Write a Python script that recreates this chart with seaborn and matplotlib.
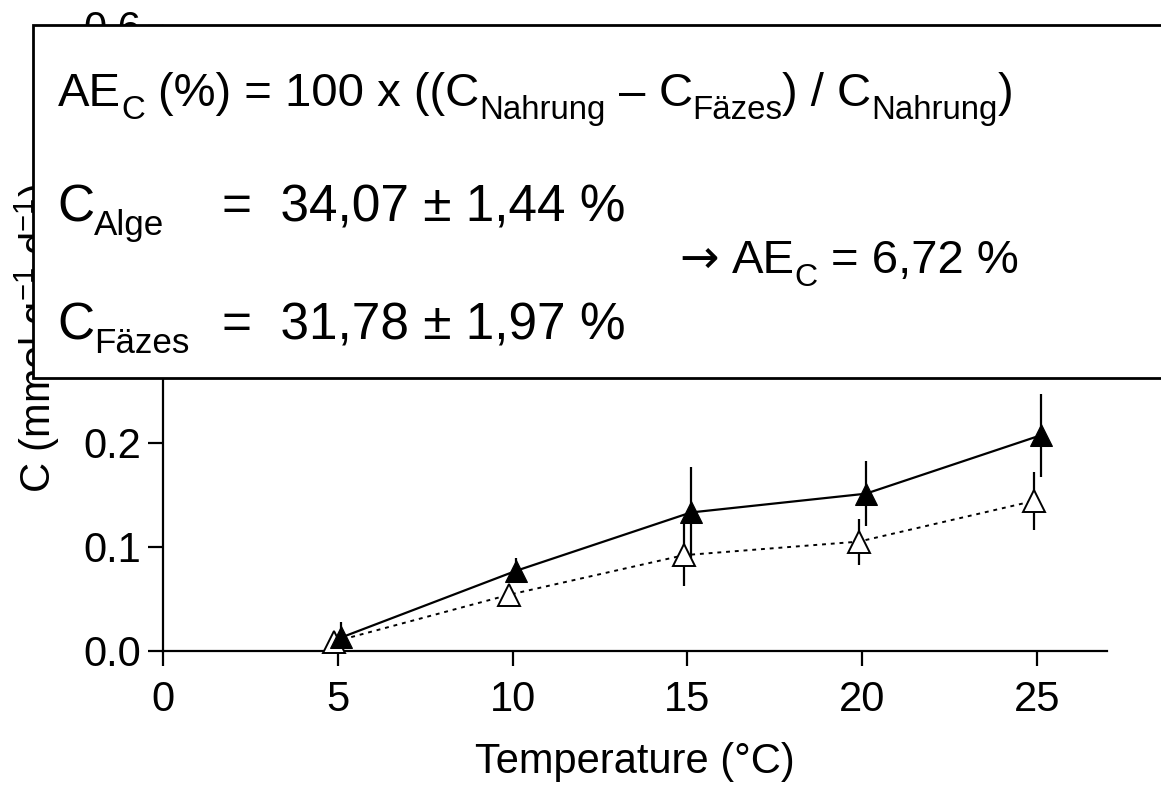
"""Carbon uptake vs temperature with assimilation efficiency box"""

import numpy as np
import matplotlib
matplotlib.use('Agg')
import matplotlib.pyplot as plt
import matplotlib.patches as mpatches
from matplotlib.transforms import IdentityTransform
import seaborn as sns

# data
temps = [5, 10, 15, 20, 25]
offset = 0.1  # small horizontal dodge between the two series
c_filled = [0.013, 0.077, 0.133, 0.151, 0.207]
err_filled = [0.015, 0.012, 0.044, 0.031, 0.040]
c_open = [0.009, 0.054, 0.092, 0.105, 0.144]
err_open = [0.004, 0.005, 0.030, 0.022, 0.028]

x_ticks = [0, 5, 10, 15, 20, 25]
y_ticks = [0.0, 0.1, 0.2, 0.3, 0.4, 0.5, 0.6]

W, H = 1161, 789
SPACE = 0.278  # space width of Arial/Liberation in em


def setup_style():
    sns.set_theme(style='ticks')
    plt.rcParams.update({
        'font.family': ['Liberation Sans', 'DejaVu Sans'],
        'mathtext.fontset': 'custom',
        'mathtext.rm': 'Liberation Sans',
        'mathtext.it': 'Liberation Sans:italic',
        'mathtext.bf': 'Liberation Sans:bold',
        'axes.edgecolor': 'black',
        'axes.labelcolor': 'black',
        'axes.linewidth': 1.6,
        'xtick.major.width': 1.6,
        'ytick.major.width': 1.6,
        'xtick.major.size': 11,
        'ytick.major.size': 11,
        'xtick.color': 'black',
        'ytick.color': 'black',
        'text.color': 'black',
    })


def rich_text(fig, x, y, parts, size, sub_scale=0.68):
    """Write main/subscript pieces one after another; x, y in pixels from top-left."""
    renderer = fig.canvas.get_renderer()
    em = size * fig.dpi / 72.0
    cx = x
    base = H - y
    for s, kind, gap in parts:
        cx += gap * em
        kw = {}
        if kind == 'sub':
            fs, yy = size * sub_scale, base - 0.27 * em
        else:
            fs, yy = size, base
        if kind == 'arrow':
            kw['family'] = ['DejaVu Sans']
        t = fig.text(cx, yy, s, fontsize=fs, va='baseline', ha='left',
                     transform=IdentityTransform(), zorder=11, **kw)
        cx = t.get_window_extent(renderer).x1
    return cx


setup_style()
fig = plt.figure(figsize=(W / 100, H / 100), dpi=100)
ax = fig.add_axes([163 / W, 1 - 651 / H, (1107 - 163) / W, (651 - 26) / H])

x_f = np.array(temps) + offset
x_o = np.array(temps) - offset

ax.errorbar(x_f, c_filled, yerr=err_filled, fmt='none', ecolor='black', elinewidth=1.6,
            capsize=0, zorder=2, clip_on=False)
ax.errorbar(x_o, c_open, yerr=err_open, fmt='none', ecolor='black', elinewidth=1.6,
            capsize=0, zorder=2, clip_on=False)

sns.lineplot(x=x_o, y=c_open, ax=ax, color='black', linestyle=(0, (2, 2.5)), linewidth=1.4,
             marker='^', markersize=16, markerfacecolor='white', markeredgecolor='black',
             markeredgewidth=1.4, zorder=3, clip_on=False)
sns.lineplot(x=x_f, y=c_filled, ax=ax, color='black', linestyle='-', linewidth=1.6,
             marker='^', markersize=16, markerfacecolor='black', markeredgecolor='black',
             zorder=4, clip_on=False)

ax.set_xlim(0, 27)
ax.set_ylim(0, 0.6)
ax.set_xticks(x_ticks)
ax.set_yticks(y_ticks)
ax.set_yticklabels([f'{v:.1f}' for v in y_ticks])
ax.tick_params(labelsize=30)
ax.tick_params(axis='x', pad=10)
ax.tick_params(axis='y', pad=5)
ax.set_xlabel('Temperature (°C)', fontsize=30, labelpad=16)
ax.set_ylabel('C (mmol g$^{-1}$ d$^{-1}$)', fontsize=30, labelpad=15)
sns.despine(ax=ax)

# equation box drawn over the upper part of the plot
box = mpatches.Rectangle((33 / W, 1 - 378 / H), 1.2, (378 - 25) / H,
                         transform=fig.transFigure, facecolor='white',
                         edgecolor='black', linewidth=2, zorder=10)
fig.patches.append(box)

rich_text(fig, 58, 106, [
    ('AE', 'main', 0), ('C', 'sub', 0), ('(%) = 100 x ((C', 'main', SPACE),
    ('Nahrung', 'sub', 0), ('–', 'main', SPACE), ('C', 'main', SPACE),
    ('Fäzes', 'sub', 0), (') / C', 'main', 0), ('Nahrung', 'sub', 0), (')', 'main', 0),
], 34, sub_scale=0.7)

rich_text(fig, 57, 221, [('C', 'main', 0), ('Alge', 'sub', 0)], 37)
rich_text(fig, 222, 221, [('=  34,07 ± 1,44 %', 'main', 0)], 37)
rich_text(fig, 57, 339, [('C', 'main', 0), ('Fäzes', 'sub', 0)], 37)
rich_text(fig, 222, 339, [('=  31,78 ± 1,97 %', 'main', 0)], 37)
rich_text(fig, 679, 273, [
    ('→', 'arrow', 0), ('AE', 'main', SPACE), ('C', 'sub', 0), ('= 6,72 %', 'main', SPACE),
], 34)

fig.savefig('out.png', dpi=100)
